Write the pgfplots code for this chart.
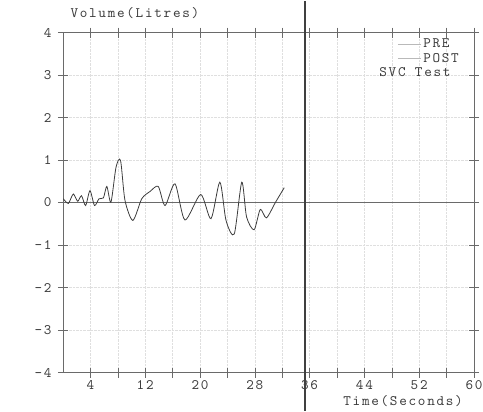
\documentclass[border=0pt]{standalone}
\usepackage{fontspec}
\setmainfont{lmmono10-regular.otf}[LetterSpace=12]
\usepackage{pgfplots}
\pgfplotsset{compat=1.18}
\definecolor{ink}{HTML}{3C3C3C}
\definecolor{frame}{HTML}{6A6A6A}

\begin{document}
\begin{tikzpicture}
\begin{axis}[
  at={(0,0)}, anchor=south west,
  scale only axis, width=411bp, height=340bp,
  xmin=0, xmax=60, ymin=-4, ymax=4,
  xtick={4,8,...,60},
  xticklabels={4,,12,,20,,28,,36,,44,,52,,60},
  ytick={-4,-3,...,4},
  tick align=center, major tick length=10bp,
  tick style={frame, line width=0.6pt},
  axis line style={frame, line width=0.7pt},
  grid=major, grid style={densely dotted, gray!25},
  /pgf/number format/assume math mode=true,
  ticklabel style={font=\fontsize{14.5}{16}\selectfont, text=ink},
  xticklabel style={inner sep=0pt, yshift=-3bp},
  yticklabel style={xshift=-3bp},
  xlabel={Time(Seconds)},
  ylabel={Volume(Litres)},
  every axis x label/.style={at={(rel axis cs:1,0)}, anchor=base east, inner sep=0pt,
    xshift=-11bp, yshift=-33bp, font=\fontsize{14.5}{16}\selectfont, text=ink},
  every axis y label/.style={at={(rel axis cs:0,1)}, anchor=base west,
    xshift=4bp, yshift=15bp, font=\fontsize{14.5}{16}\selectfont, text=ink},
  legend style={at={(rel axis cs:1,1)}, anchor=north east, draw=none, fill=none,
    xshift=-12bp, yshift=-3bp, font=\fontsize{14.5}{14.5}\selectfont, text=ink,
    row sep=0bp, inner sep=1pt},
  legend cell align=left,
  legend image code/.code={\draw[gray!55, line width=0.6pt] (0bp,0bp) -- (23bp,0bp);},
]
\addplot[frame, line width=0.6pt, forget plot] coordinates {(0,0) (60,0)};
\addplot[ink, line width=0.8pt, smooth, tension=0.45] coordinates {
  (0.05,0.09) (0.78,-0.02) (1.5,0.20) (2.14,0.03) (2.7,0.16) (3.3,-0.07)
  (3.94,0.28) (4.6,-0.07) (5.26,0.09) (5.9,0.11) (6.4,0.38) (7.0,0.01)
  (7.74,0.83) (8.4,0.99) (9.05,0.05) (10.2,-0.42) (11.5,0.09) (12.7,0.26)
  (13.9,0.38) (14.9,-0.07) (16.35,0.44) (17.8,-0.41) (20.1,0.19)
  (21.6,-0.38) (22.9,0.48) (23.8,-0.42) (25.0,-0.74) (26.1,0.48)
  (26.8,-0.34) (27.9,-0.64) (28.8,-0.16) (29.7,-0.36) (31.0,0.0) (32.3,0.35)
};
\addlegendentry{PRE}
\addlegendimage{gray!55}
\addlegendentry{POST}
\node[anchor=base east, font=\fontsize{14.5}{16}\selectfont, text=ink]
  at (rel axis cs:1,1) [xshift=-20bp, yshift=-44bp] {SVC Test};
\end{axis}
\draw[black!75, line width=1.1pt] (242bp,-38bp) -- (242bp,372bp);
\path[use as bounding box] (-63bp,-38bp) rectangle (420bp,372bp);
\end{tikzpicture}
\end{document}
